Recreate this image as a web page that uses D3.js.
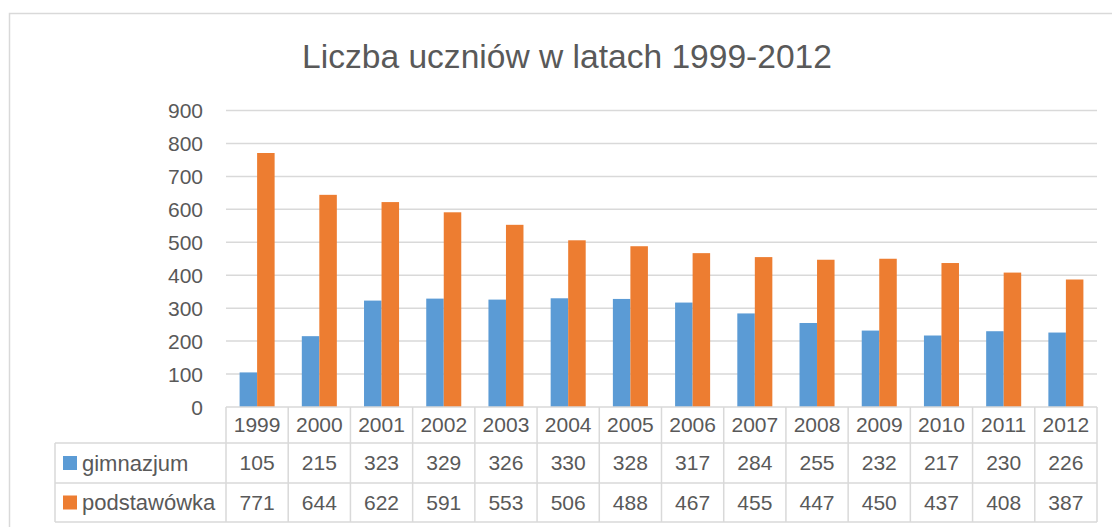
<!DOCTYPE html>
<html>
<head>
<meta charset="utf-8">
<script src="https://cdn.jsdelivr.net/npm/d3@7"></script>
<style>
  body { margin: 0; background: #fff; }
  text { font-family: "Liberation Sans", Arial, sans-serif; fill: #595959; }
</style>
</head>
<body>
<div id="chart"></div>
<script>
// chart data
var years = ["1999","2000","2001","2002","2003","2004","2005","2006","2007","2008","2009","2010","2011","2012"];
var seriesNames = ["gimnazjum", "podstawówka"];
var gimnazjum = [105, 215, 323, 329, 326, 330, 328, 317, 284, 255, 232, 217, 230, 226];
var podstawowka = [771, 644, 622, 591, 553, 506, 488, 467, 455, 447, 450, 437, 408, 387];
var yTicks = [0, 100, 200, 300, 400, 500, 600, 700, 800, 900];
var title = "Liczba uczniów w latach 1999-2012";

var colors = ["#5B9BD5", "#ED7D31"],
    gridColor = "#D9D9D9";

var width = 1112,
    height = 527;

// plot area
var plot = { left: 226, right: 1097, top: 110.5, bottom: 407 };
// table rows
var rowLines = [407, 443, 483, 522],
    tableLeft = 55;

var svg = d3.select("#chart")
    .append("svg")
    .attr("width", width)
    .attr("height", height);

// chart border
svg.append("rect")
    .attr("x", 9.5)
    .attr("y", 13.5)
    .attr("width", 1110)
    .attr("height", 520)
    .attr("fill", "none")
    .attr("stroke", gridColor)
    .attr("stroke-width", 1.5);

var x = d3.scaleBand()
    .domain(years)
    .range([plot.left, plot.right])
    .paddingInner(0.437)
    .paddingOuter(0.437 / 2);

var xInner = d3.scaleBand()
    .domain(seriesNames)
    .range([0, x.bandwidth()]);

var y = d3.scaleLinear()
    .domain([0, 900])
    .range([plot.bottom, plot.top]);

// title, sized to fit the reference width
var titleText = svg.append("text")
    .attr("x", 567)
    .attr("y", 68)
    .attr("text-anchor", "middle")
    .attr("font-size", "32px")
    .text(title);
var tw = titleText.node().getComputedTextLength();
titleText.attr("font-size", (32 * 530 / tw) + "px");

// gridlines
svg.selectAll(".grid")
    .data(yTicks.filter(function(d) { return d > 0; }))
    .enter().append("line")
    .attr("class", "grid")
    .attr("x1", plot.left)
    .attr("x2", plot.right)
    .attr("y1", function(d) { return y(d); })
    .attr("y2", function(d) { return y(d); })
    .attr("stroke", gridColor)
    .attr("stroke-width", 1.5);

// y axis labels
var yAxis = d3.axisLeft(y).tickValues(yTicks).tickSize(0).tickPadding(0);
var yAxisG = svg.append("g")
    .attr("transform", "translate(203,0)")
    .call(yAxis);
yAxisG.select(".domain").remove();
yAxisG.selectAll("text")
    .attr("font-size", "21px")
    .attr("font-family", "Liberation Sans, Arial, sans-serif")
    .attr("fill", "#595959")
    .attr("dy", "0.35em");

// bars
var data = years.map(function(yr, i) {
    return { year: yr, values: [gimnazjum[i], podstawowka[i]] };
});

var groups = svg.selectAll(".group")
    .data(data)
    .enter().append("g")
    .attr("class", "group")
    .attr("transform", function(d) { return "translate(" + x(d.year) + ",0)"; });

groups.selectAll("rect")
    .data(function(d) {
        return d.values.map(function(v, j) { return { name: seriesNames[j], value: v, idx: j }; });
    })
    .enter().append("rect")
    .attr("x", function(d) { return xInner(d.name); })
    .attr("width", xInner.bandwidth())
    .attr("y", function(d) { return y(d.value); })
    .attr("height", function(d) { return y(0) - y(d.value); })
    .attr("fill", function(d) { return colors[d.idx]; });

// data table
var step = x.step();
var table = svg.append("g").attr("stroke", gridColor).attr("stroke-width", 1.5);

// horizontal lines
table.append("line")
    .attr("x1", plot.left).attr("x2", plot.right)
    .attr("y1", rowLines[0]).attr("y2", rowLines[0]);
rowLines.slice(1).forEach(function(ry) {
    table.append("line")
        .attr("x1", tableLeft).attr("x2", plot.right)
        .attr("y1", ry).attr("y2", ry);
});

// vertical lines
d3.range(years.length + 1).forEach(function(i) {
    var vx = plot.left + i * step;
    table.append("line")
        .attr("x1", vx).attr("x2", vx)
        .attr("y1", rowLines[0]).attr("y2", rowLines[3]);
});
table.append("line")
    .attr("x1", tableLeft).attr("x2", tableLeft)
    .attr("y1", rowLines[1]).attr("y2", rowLines[3]);

// header years
svg.selectAll(".yearLabel")
    .data(years)
    .enter().append("text")
    .attr("class", "yearLabel")
    .attr("x", function(d) { return x(d) + x.bandwidth() / 2; })
    .attr("y", (rowLines[0] + rowLines[1]) / 2)
    .attr("dy", "0.35em")
    .attr("text-anchor", "middle")
    .attr("font-size", "21px")
    .text(function(d) { return d; });

// value rows
[gimnazjum, podstawowka].forEach(function(vals, j) {
    var cy = (rowLines[j + 1] + rowLines[j + 2]) / 2;

    svg.append("rect")
        .attr("x", 63)
        .attr("y", cy - 7)
        .attr("width", 14)
        .attr("height", 14)
        .attr("fill", colors[j]);

    svg.append("text")
        .attr("x", 82)
        .attr("y", cy)
        .attr("dy", "0.35em")
        .attr("font-size", "22px")
        .text(seriesNames[j]);

    svg.selectAll(".val" + j)
        .data(vals)
        .enter().append("text")
        .attr("class", "val" + j)
        .attr("x", function(d, i) { return x(years[i]) + x.bandwidth() / 2; })
        .attr("y", cy)
        .attr("dy", "0.35em")
        .attr("text-anchor", "middle")
        .attr("font-size", "21px")
        .text(function(d) { return d; });
});
</script>
</body>
</html>
